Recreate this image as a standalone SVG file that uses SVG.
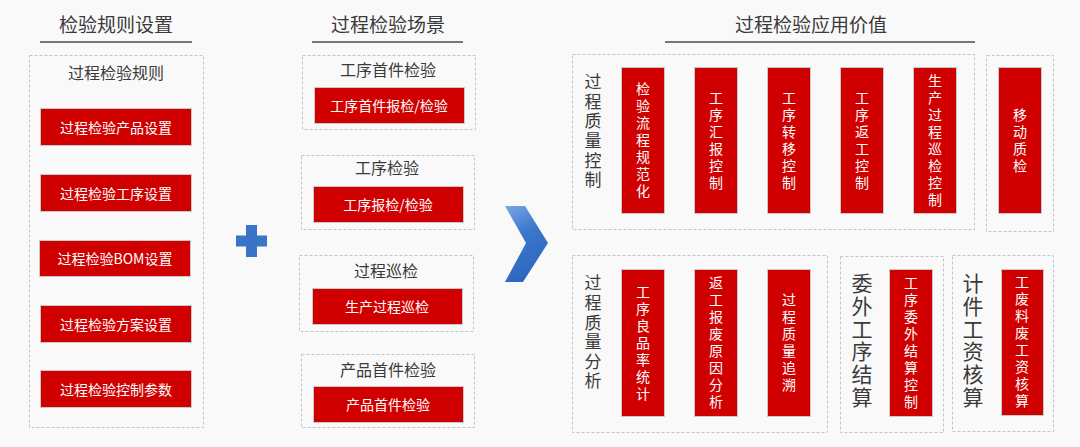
<svg xmlns="http://www.w3.org/2000/svg" width="1080" height="447" viewBox="0 0 1080 447">
<defs>
<style>
text{font-family:"Noto Sans CJK SC","Noto Sans",sans-serif;}
.title{font-size:19px;fill:#3a3a3a;text-anchor:middle;}
.lbl{font-size:16px;fill:#3a3a3a;text-anchor:middle;}
.btn{font-size:14px;fill:#ffffff;text-anchor:middle;dominant-baseline:central;}
.vt{font-size:14px;fill:#ffffff;text-anchor:middle;writing-mode:vertical-rl;letter-spacing:3px;}
.vl{font-size:17px;fill:#3a3a3a;text-anchor:middle;writing-mode:vertical-rl;letter-spacing:2.6px;}
.vl2{font-size:21px;fill:#3a3a3a;text-anchor:middle;writing-mode:vertical-rl;letter-spacing:1.8px;}
.uline{stroke:#4a4a4a;stroke-width:1.3;}
.dash{fill:none;stroke:#c4c4c4;stroke-width:1;stroke-dasharray:3 2;}
.red{fill:#d10000;stroke:#c9c9c9;stroke-width:1;}
</style>
<linearGradient id="chev" x1="0" y1="0" x2="0.3" y2="1">
<stop offset="0" stop-color="#7aa6e6"/>
<stop offset="0.45" stop-color="#3b77cc"/>
<stop offset="1" stop-color="#2d67c2"/>
</linearGradient>
</defs>
<rect width="1080" height="447" fill="#f9f9f9"/>

<g id="col-rules">
<text class="title" x="116" y="32">检验规则设置</text>
<line class="uline" x1="40" y1="42" x2="192" y2="42"/>
<rect class="dash" x="29.5" y="55.5" width="174" height="372"/>
<text class="lbl" x="116" y="79">过程检验规则</text>
</g>
<g id="rule-1"><rect class="red" x="40.5" y="108.5" width="151" height="37"/><text class="btn" x="116" y="127">过程检验产品设置</text></g>
<g id="rule-2"><rect class="red" x="40.5" y="174.5" width="151" height="37"/><text class="btn" x="116" y="193">过程检验工序设置</text></g>
<g id="rule-3"><rect class="red" x="39.5" y="240.5" width="151" height="36"/><text class="btn" x="115" y="258">过程检验BOM设置</text></g>
<g id="rule-4"><rect class="red" x="40.5" y="305.5" width="151" height="37"/><text class="btn" x="116" y="324">过程检验方案设置</text></g>
<g id="rule-5"><rect class="red" x="40.5" y="370.5" width="151" height="37"/><text class="btn" x="116" y="389">过程检验控制参数</text></g>

<g id="col-scenes">
<text class="title" x="388" y="32">过程检验场景</text>
<line class="uline" x1="312" y1="42" x2="463" y2="42"/>
</g>
<g id="scene-1">
<rect class="dash" x="302.5" y="55.5" width="173" height="74"/>
<text class="lbl" x="388" y="76">工序首件检验</text>
<rect class="red" x="314.5" y="87.5" width="150" height="36"/>
<text class="btn" x="389" y="105">工序首件报检/检验</text>
</g>
<g id="scene-2">
<rect class="dash" x="301.5" y="155.5" width="173" height="74"/>
<text class="lbl" x="387" y="174">工序检验</text>
<rect class="red" x="313.5" y="186.5" width="150" height="36"/>
<text class="btn" x="388" y="204">工序报检/检验</text>
</g>
<g id="scene-3">
<rect class="dash" x="299.5" y="255.5" width="174" height="76"/>
<text class="lbl" x="386" y="277">过程巡检</text>
<rect class="red" x="312.5" y="288.5" width="150" height="36"/>
<text class="btn" x="387" y="306">生产过程巡检</text>
</g>
<g id="scene-4">
<rect class="dash" x="301.5" y="354.5" width="173" height="73"/>
<text class="lbl" x="388" y="376">产品首件检验</text>
<rect class="red" x="313.5" y="386.5" width="150" height="36"/>
<text class="btn" x="388" y="404">产品首件检验</text>
</g>

<g id="plus">
<rect x="236" y="235.5" width="31" height="11" fill="#3a74c6"/>
<rect x="246" y="225" width="11" height="32" fill="#3a74c6"/>
</g>

<g id="connectors">
<polygon points="505,206 525,206 548,243 523,282 505,282 526,243" fill="url(#chev)"/>
</g>

<g id="col-value">
<text class="title" x="811" y="32">过程检验应用价值</text>
<line class="uline" x1="665" y1="42" x2="975" y2="42"/>
</g>

<g id="quality-control">
<rect class="dash" x="572.5" y="54.5" width="402" height="175"/>
<text class="vl" x="593" y="132">过程质量控制</text>
</g>
<g id="qc-1"><rect class="red" x="621.5" y="67.5" width="43" height="146"/><text class="vt" x="643" y="141.5">检验流程规范化</text></g>
<g id="qc-2"><rect class="red" x="694.5" y="67.5" width="43" height="146"/><text class="vt" x="716" y="141.5">工序汇报控制</text></g>
<g id="qc-3"><rect class="red" x="767.5" y="67.5" width="43" height="146"/><text class="vt" x="789" y="141.5">工序转移控制</text></g>
<g id="qc-4"><rect class="red" x="840.5" y="67.5" width="43" height="146"/><text class="vt" x="862" y="141.5">工序返工控制</text></g>
<g id="qc-5"><rect class="red" x="913.5" y="67.5" width="43" height="146"/><text class="vt" x="935" y="141.5">生产过程巡检控制</text></g>

<g id="mobile-qc">
<rect class="dash" x="986.5" y="55.5" width="67" height="176"/>
<rect class="red" x="998.5" y="67.5" width="43" height="146"/>
<text class="vt" x="1020" y="141.5">移动质检</text>
</g>

<g id="quality-analysis">
<rect class="dash" x="572.5" y="255.5" width="255" height="177"/>
<text class="vl" x="593" y="333.3">过程质量分析</text>
</g>
<g id="qa-1"><rect class="red" x="621.5" y="269.5" width="43" height="147"/><text class="vt" x="643" y="344">工序良品率统计</text></g>
<g id="qa-2"><rect class="red" x="694.5" y="269.5" width="43" height="147"/><text class="vt" x="716" y="344">返工报废原因分析</text></g>
<g id="qa-3"><rect class="red" x="767.5" y="269.5" width="43" height="147"/><text class="vt" x="789" y="344">过程质量追溯</text></g>

<g id="outsource">
<rect class="dash" x="840.5" y="256.5" width="103" height="176"/>
<text class="vl2" x="862" y="341">委外工序结算</text>
<rect class="red" x="889.5" y="269.5" width="43" height="147"/>
<text class="vt" x="911" y="344">工序委外结算控制</text>
</g>

<g id="piecework">
<rect class="dash" x="952.5" y="255.5" width="101" height="176"/>
<text class="vl2" x="973" y="341">计件工资核算</text>
<rect class="red" x="1001.5" y="269.5" width="42" height="146"/>
<text class="vt" x="1022" y="343">工废料废工资核算</text>
</g>
</svg>
